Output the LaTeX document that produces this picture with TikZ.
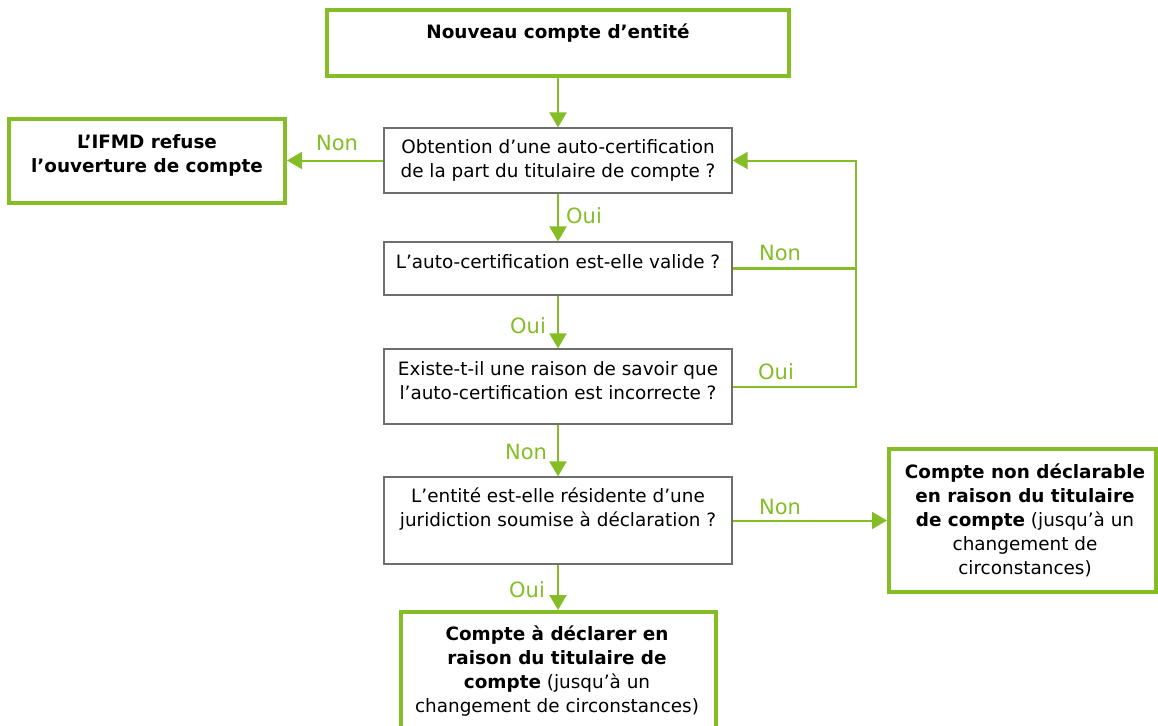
\documentclass[tikz,border=0pt]{standalone}
\usepackage{fontspec}
\setmainfont{DejaVu Sans}
\usetikzlibrary{arrows.meta,calc}
\definecolor{grn}{RGB}{132,189,38}
\definecolor{gbord}{RGB}{110,110,110}
\begin{document}
\begin{tikzpicture}[x=1pt,y=-1pt,
  gbox/.style={draw=grn, line width=4pt, fill=white, inner sep=0pt},
  qbox/.style={draw=gbord, line width=1.1pt, fill=white, inner sep=0pt},
  txt/.style={align=center, inner sep=0pt, font=\fontsize{18.4}{24}\selectfont},
  txtb/.style={align=center, inner sep=0pt, font=\fontsize{18.4}{24}\selectfont\bfseries},
  lbl/.style={text=grn, inner sep=0pt, font=\fontsize{21}{24}\selectfont},
  conn/.style={draw=grn, line width=2pt},
  arr/.style={conn, -{Triangle[length=15pt,width=17pt]}},
]
\useasboundingbox (0,0) rectangle (1158,725);

% boxes
\node[gbox, minimum width=462pt, minimum height=66pt] (top) at (558,43) {};
\node[qbox, minimum width=348pt, minimum height=65pt] (obt) at (558,160.5) {};
\node[gbox, minimum width=276pt, minimum height=84pt] (ifmd) at (147,160.5) {};
\node[qbox, minimum width=348pt, minimum height=53pt] (val) at (558,268.5) {};
\node[qbox, minimum width=348pt, minimum height=75pt] (exi) at (558,386.5) {};
\node[qbox, minimum width=348pt, minimum height=87pt] (ent) at (558,520.5) {};
\node[gbox, minimum width=267pt, minimum height=143pt] (nd) at (1022.5,520.5) {};
\node[gbox, minimum width=315pt, minimum height=118pt] (dec) at (558,671) {};

% texts
\node[txtb] (ttop) at (558,33) {Nouveau compte d’entité};
\node[txt] (tobt) at (558,160.5) {Obtention d’une auto-certification\\de la part du titulaire de compte ?};
\node[txtb] (tifmd) at (147,155) {L’IFMD refuse\\l’ouverture de compte};
\node[txt] (tval) at (558,262) {L’auto-certification est-elle valide ?};
\node[txt] (texi) at (558,381) {Existe-t-il une raison de savoir que\\l’auto-certification est incorrecte ?};
\node[txt] (tent) at (558,509) {L’entité est-elle résidente d’une\\juridiction soumise à déclaration ?};
\node[txt] (tnd) at (1025,520) {\textbf{Compte non déclarable}\\\textbf{en raison du titulaire}\\\textbf{de compte} (jusqu’à un\\changement de\\circonstances)};
\node[txt] (tdec) at (557,671) {\textbf{Compte à déclarer en}\\\textbf{raison du titulaire de}\\\textbf{compte} (jusqu’à un\\changement de circonstances)};

% connectors
\coordinate (loop) at (856,160.5);
\draw[arr] (top.south) -- (obt.north);
\draw[arr] (obt.west) -- (ifmd.east);
\draw[arr] (obt.south) -- (val.north);
\draw[conn, line width=3pt] (val.east) -- (val.east -| loop);
\draw[arr] (exi.east) -- (exi.east -| loop) -- (loop) -- (obt.east);
\draw[arr] (val.south) -- (exi.north);
\draw[arr] (exi.south) -- (ent.north);
\draw[arr] (ent.east) -- (nd.west);
\draw[arr] (ent.south) -- (dec.north);

% labels
\node[lbl] (l1) at (337,143) {Non};
\node[lbl] (l2) at (584,216) {Oui};
\node[lbl] (l3) at (780,253) {Non};
\node[lbl] (l4) at (528,326) {Oui};
\node[lbl] (l5) at (776,372) {Oui};
\node[lbl] (l6) at (526,452) {Non};
\node[lbl] (l7) at (780,507) {Non};
\node[lbl] (l8) at (527,590) {Oui};
\end{tikzpicture}
\end{document}
